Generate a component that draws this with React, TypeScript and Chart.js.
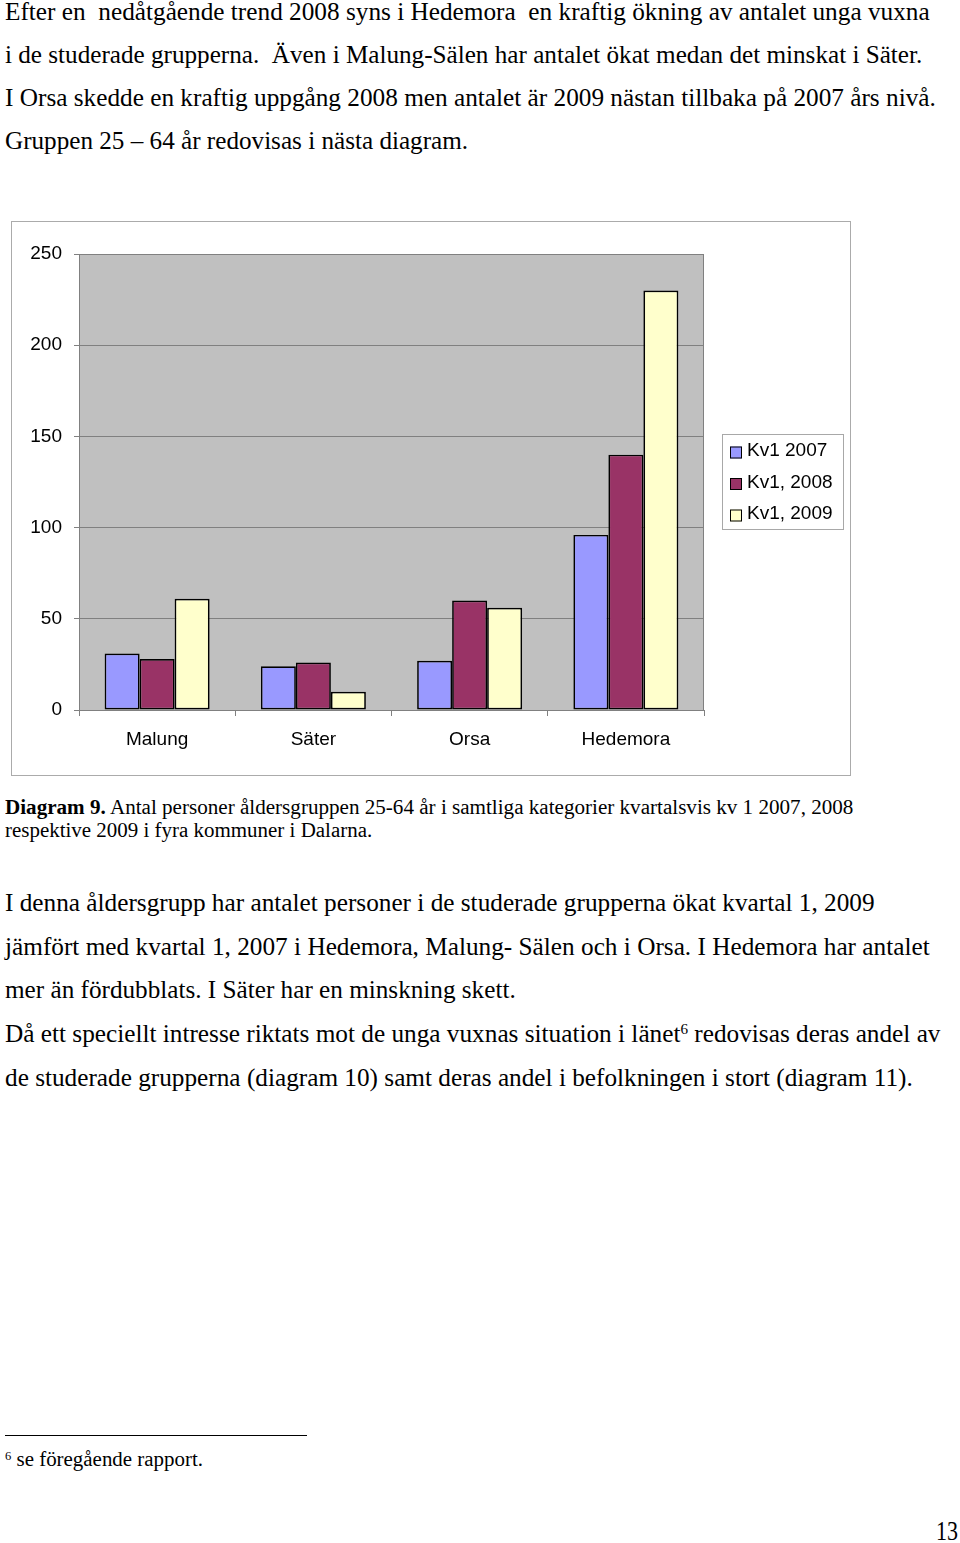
import React, { useEffect, useLayoutEffect, useRef, useState } from 'react';
import { Chart, registerables } from 'chart.js';

Chart.register(...registerables);

// ---------- data ----------
const categories = ['Malung', 'Säter', 'Orsa', 'Hedemora'];
const seriesLabels = ['Kv1 2007', 'Kv1, 2008', 'Kv1, 2009'];
const kv1_2007 = [31, 24, 27, 96];
const kv1_2008 = [28, 26, 60, 140];
const kv1_2009 = [61, 10, 56, 230];
const yTickValues = [0, 50, 100, 150, 200, 250];
const seriesColors = ['#9999FF', '#993366', '#FFFFCC'];

const SERIF = '"Liberation Serif", "Times New Roman", serif';
const SANS = '"Liberation Sans", Arial, sans-serif';

type FitProps = {
  x: number;
  baseline: number;
  right: number;
  size: number;
  children: React.ReactNode;
};

function FitLine({ x, baseline, right, size, children }: FitProps) {
  const ref = useRef<HTMLDivElement>(null);
  const [sx, setSx] = useState(1);
  useLayoutEffect(() => {
    const measure = () => {
      const el = ref.current;
      if (!el) return;
      const w = el.offsetWidth;
      if (w > 0) setSx((right - x) / w);
    };
    measure();
    const f = (document as any).fonts;
    if (f && f.ready) f.ready.then(measure);
  }, [x, right]);
  return (
    <div
      ref={ref}
      style={{
        position: 'absolute',
        left: x,
        top: baseline - 0.8375 * size,
        fontFamily: SERIF,
        fontSize: size,
        lineHeight: `${size}px`,
        whiteSpace: 'pre',
        color: '#000',
        transform: `scaleX(${sx})`,
        transformOrigin: '0 0',
      }}
    >
      {children}
    </div>
  );
}

function Sup({ children }: { children: React.ReactNode }) {
  return (
    <span style={{ fontSize: '0.6em', position: 'relative', top: '-0.55em', lineHeight: 0 }}>
      {children}
    </span>
  );
}

const plotBackground = {
  id: 'plotBackground',
  beforeDraw(chart: any) {
    const { ctx, chartArea } = chart;
    ctx.save();
    ctx.fillStyle = '#C0C0C0';
    ctx.fillRect(chartArea.left, chartArea.top, chartArea.right - chartArea.left, chartArea.bottom - chartArea.top);
    ctx.restore();
  },
  beforeDatasetsDraw(chart: any) {
    const { ctx, chartArea } = chart;
    ctx.save();
    ctx.strokeStyle = '#808080';
    ctx.lineWidth = 1;
    ctx.beginPath();
    ctx.moveTo(chartArea.left, chartArea.top + 0.5);
    ctx.lineTo(chartArea.right - 0.5, chartArea.top + 0.5);
    ctx.lineTo(chartArea.right - 0.5, chartArea.bottom);
    ctx.stroke();
    ctx.restore();
  },
};

const boxedLegend = {
  id: 'boxedLegend',
  afterDraw(chart: any) {
    const { ctx, chartArea } = chart;
    const boxL = chartArea.right + 18;
    const boxW = 122;
    const boxH = 96;
    const cy = (chartArea.top + chartArea.bottom) / 2;
    const boxT = cy - boxH / 2;
    ctx.save();
    ctx.fillStyle = '#FFFFFF';
    ctx.fillRect(boxL, boxT, boxW, boxH);
    ctx.strokeStyle = '#A8A8A8';
    ctx.lineWidth = 1;
    ctx.strokeRect(boxL + 0.5, boxT + 0.5, boxW - 1, boxH - 1);
    const rowH = 31.5;
    ctx.font = `19px ${SANS}`;
    ctx.textBaseline = 'middle';
    ctx.textAlign = 'left';
    chart.data.datasets.forEach((ds: any, i: number) => {
      const y = cy + 0.5 + (i - 1) * rowH;
      ctx.fillStyle = ds.backgroundColor;
      ctx.fillRect(boxL + 8, y - 4.5, 12, 12);
      ctx.strokeStyle = '#000';
      ctx.lineWidth = 1;
      ctx.strokeRect(boxL + 8.5, y - 4, 11, 11);
      ctx.fillStyle = '#000';
      ctx.fillText(ds.label, boxL + 25, y);
    });
    ctx.restore();
  },
};

function BarChart() {
  const canvasRef = useRef<HTMLCanvasElement>(null);
  useEffect(() => {
    if (!canvasRef.current) return;
    const seriesValues = [kv1_2007, kv1_2008, kv1_2009];
    const tickFont = { family: SANS, size: 19 };
    const chart = new Chart(canvasRef.current, {
      type: 'bar',
      data: {
        labels: categories,
        datasets: seriesLabels.map((label, i) => ({
          label,
          data: seriesValues[i],
          backgroundColor: seriesColors[i],
          borderColor: '#000000',
          borderWidth: 1.7,
          borderSkipped: false,
          categoryPercentage: 0.672,
          barPercentage: 1.0,
        })),
      },
      options: {
        animation: false,
        responsive: false,
        maintainAspectRatio: false,
        devicePixelRatio: 1,
        layout: { padding: { left: 0, top: 32, right: 146, bottom: 25 } },
        plugins: {
          legend: { display: false },
          tooltip: { enabled: false },
          title: { display: false },
        },
        scales: {
          x: {
            grid: {
              offset: true,
              drawOnChartArea: false,
              drawTicks: true,
              tickLength: 6,
              color: '#808080',
            },
            border: { color: '#808080', width: 1 },
            ticks: { padding: 12, color: '#000', font: tickFont, maxRotation: 0 },
            afterFit: (s: any) => {
              s.height = 40;
            },
          },
          y: {
            min: 0,
            max: 250,
            grid: { color: '#808080', lineWidth: 1, tickLength: 5, tickColor: '#808080' },
            border: { color: '#808080', width: 1 },
            ticks: { padding: 12, color: '#000', font: tickFont, stepSize: 50 },
            afterBuildTicks: (s: any) => {
              s.ticks = yTickValues.map((v) => ({ value: v }));
            },
            afterFit: (s: any) => {
              s.width = 67;
            },
          },
        },
      },
      plugins: [plotBackground, boxedLegend],
    });
    return () => chart.destroy();
  }, []);
  return (
    <canvas
      ref={canvasRef}
      width={838}
      height={553}
      style={{ display: 'block', width: 838, height: 553 }}
    />
  );
}

export default function App() {
  const body = 24.5;
  const small = 20.5;
  return (
    <div
      style={{
        position: 'absolute',
        left: 0,
        top: 0,
        width: 960,
        height: 1543,
        background: '#fff',
        overflow: 'hidden',
      }}
    >
      <FitLine x={5} baseline={20.5} right={930} size={body}>
        {'Efter en  nedåtgående trend 2008 syns i Hedemora  en kraftig ökning av antalet unga vuxna'}
      </FitLine>
      <FitLine x={5} baseline={63.5} right={922} size={body}>
        {'i de studerade grupperna.  Även i Malung-Sälen har antalet ökat medan det minskat i Säter.'}
      </FitLine>
      <FitLine x={5} baseline={106.5} right={936} size={body}>
        {'I Orsa skedde en kraftig uppgång 2008 men antalet är 2009 nästan tillbaka på 2007 års nivå.'}
      </FitLine>
      <FitLine x={5} baseline={149.5} right={468} size={body}>
        {'Gruppen 25 – 64 år redovisas i nästa diagram.'}
      </FitLine>

      <div
        style={{
          position: 'absolute',
          left: 11,
          top: 221,
          width: 838,
          height: 553,
          border: '1px solid #ABABAB',
          background: '#fff',
        }}
      >
        <BarChart />
      </div>

      <FitLine x={5} baseline={814} right={853} size={small}>
        <b>Diagram 9.</b>
        {' Antal personer åldersgruppen 25-64 år i samtliga kategorier kvartalsvis kv 1 2007, 2008'}
      </FitLine>
      <FitLine x={5} baseline={837.5} right={372} size={small}>
        {'respektive 2009 i fyra kommuner i Dalarna.'}
      </FitLine>

      <FitLine x={5} baseline={911.5} right={875} size={body}>
        {'I denna åldersgrupp har antalet personer i de studerade grupperna ökat kvartal 1, 2009'}
      </FitLine>
      <FitLine x={5} baseline={955.5} right={930} size={body}>
        {'jämfört med kvartal 1, 2007 i Hedemora, Malung- Sälen och i Orsa. I Hedemora har antalet'}
      </FitLine>
      <FitLine x={5} baseline={999} right={516} size={body}>
        {'mer än fördubblats. I Säter har en minskning skett.'}
      </FitLine>
      <FitLine x={5} baseline={1043} right={940} size={body}>
        {'Då ett speciellt intresse riktats mot de unga vuxnas situation i länet'}
        <Sup>6</Sup>
        {' redovisas deras andel av'}
      </FitLine>
      <FitLine x={5} baseline={1086.5} right={913} size={body}>
        {'de studerade grupperna (diagram 10) samt deras andel i befolkningen i stort (diagram 11).'}
      </FitLine>

      <div
        style={{
          position: 'absolute',
          left: 5,
          top: 1435,
          width: 302,
          height: 1,
          background: '#000',
        }}
      />
      <FitLine x={5} baseline={1466.5} right={203} size={small}>
        <Sup>6</Sup>
        {' se föregående rapport.'}
      </FitLine>
      <FitLine x={936} baseline={1541} right={958} size={27}>
        {'13'}
      </FitLine>
    </div>
  );
}
